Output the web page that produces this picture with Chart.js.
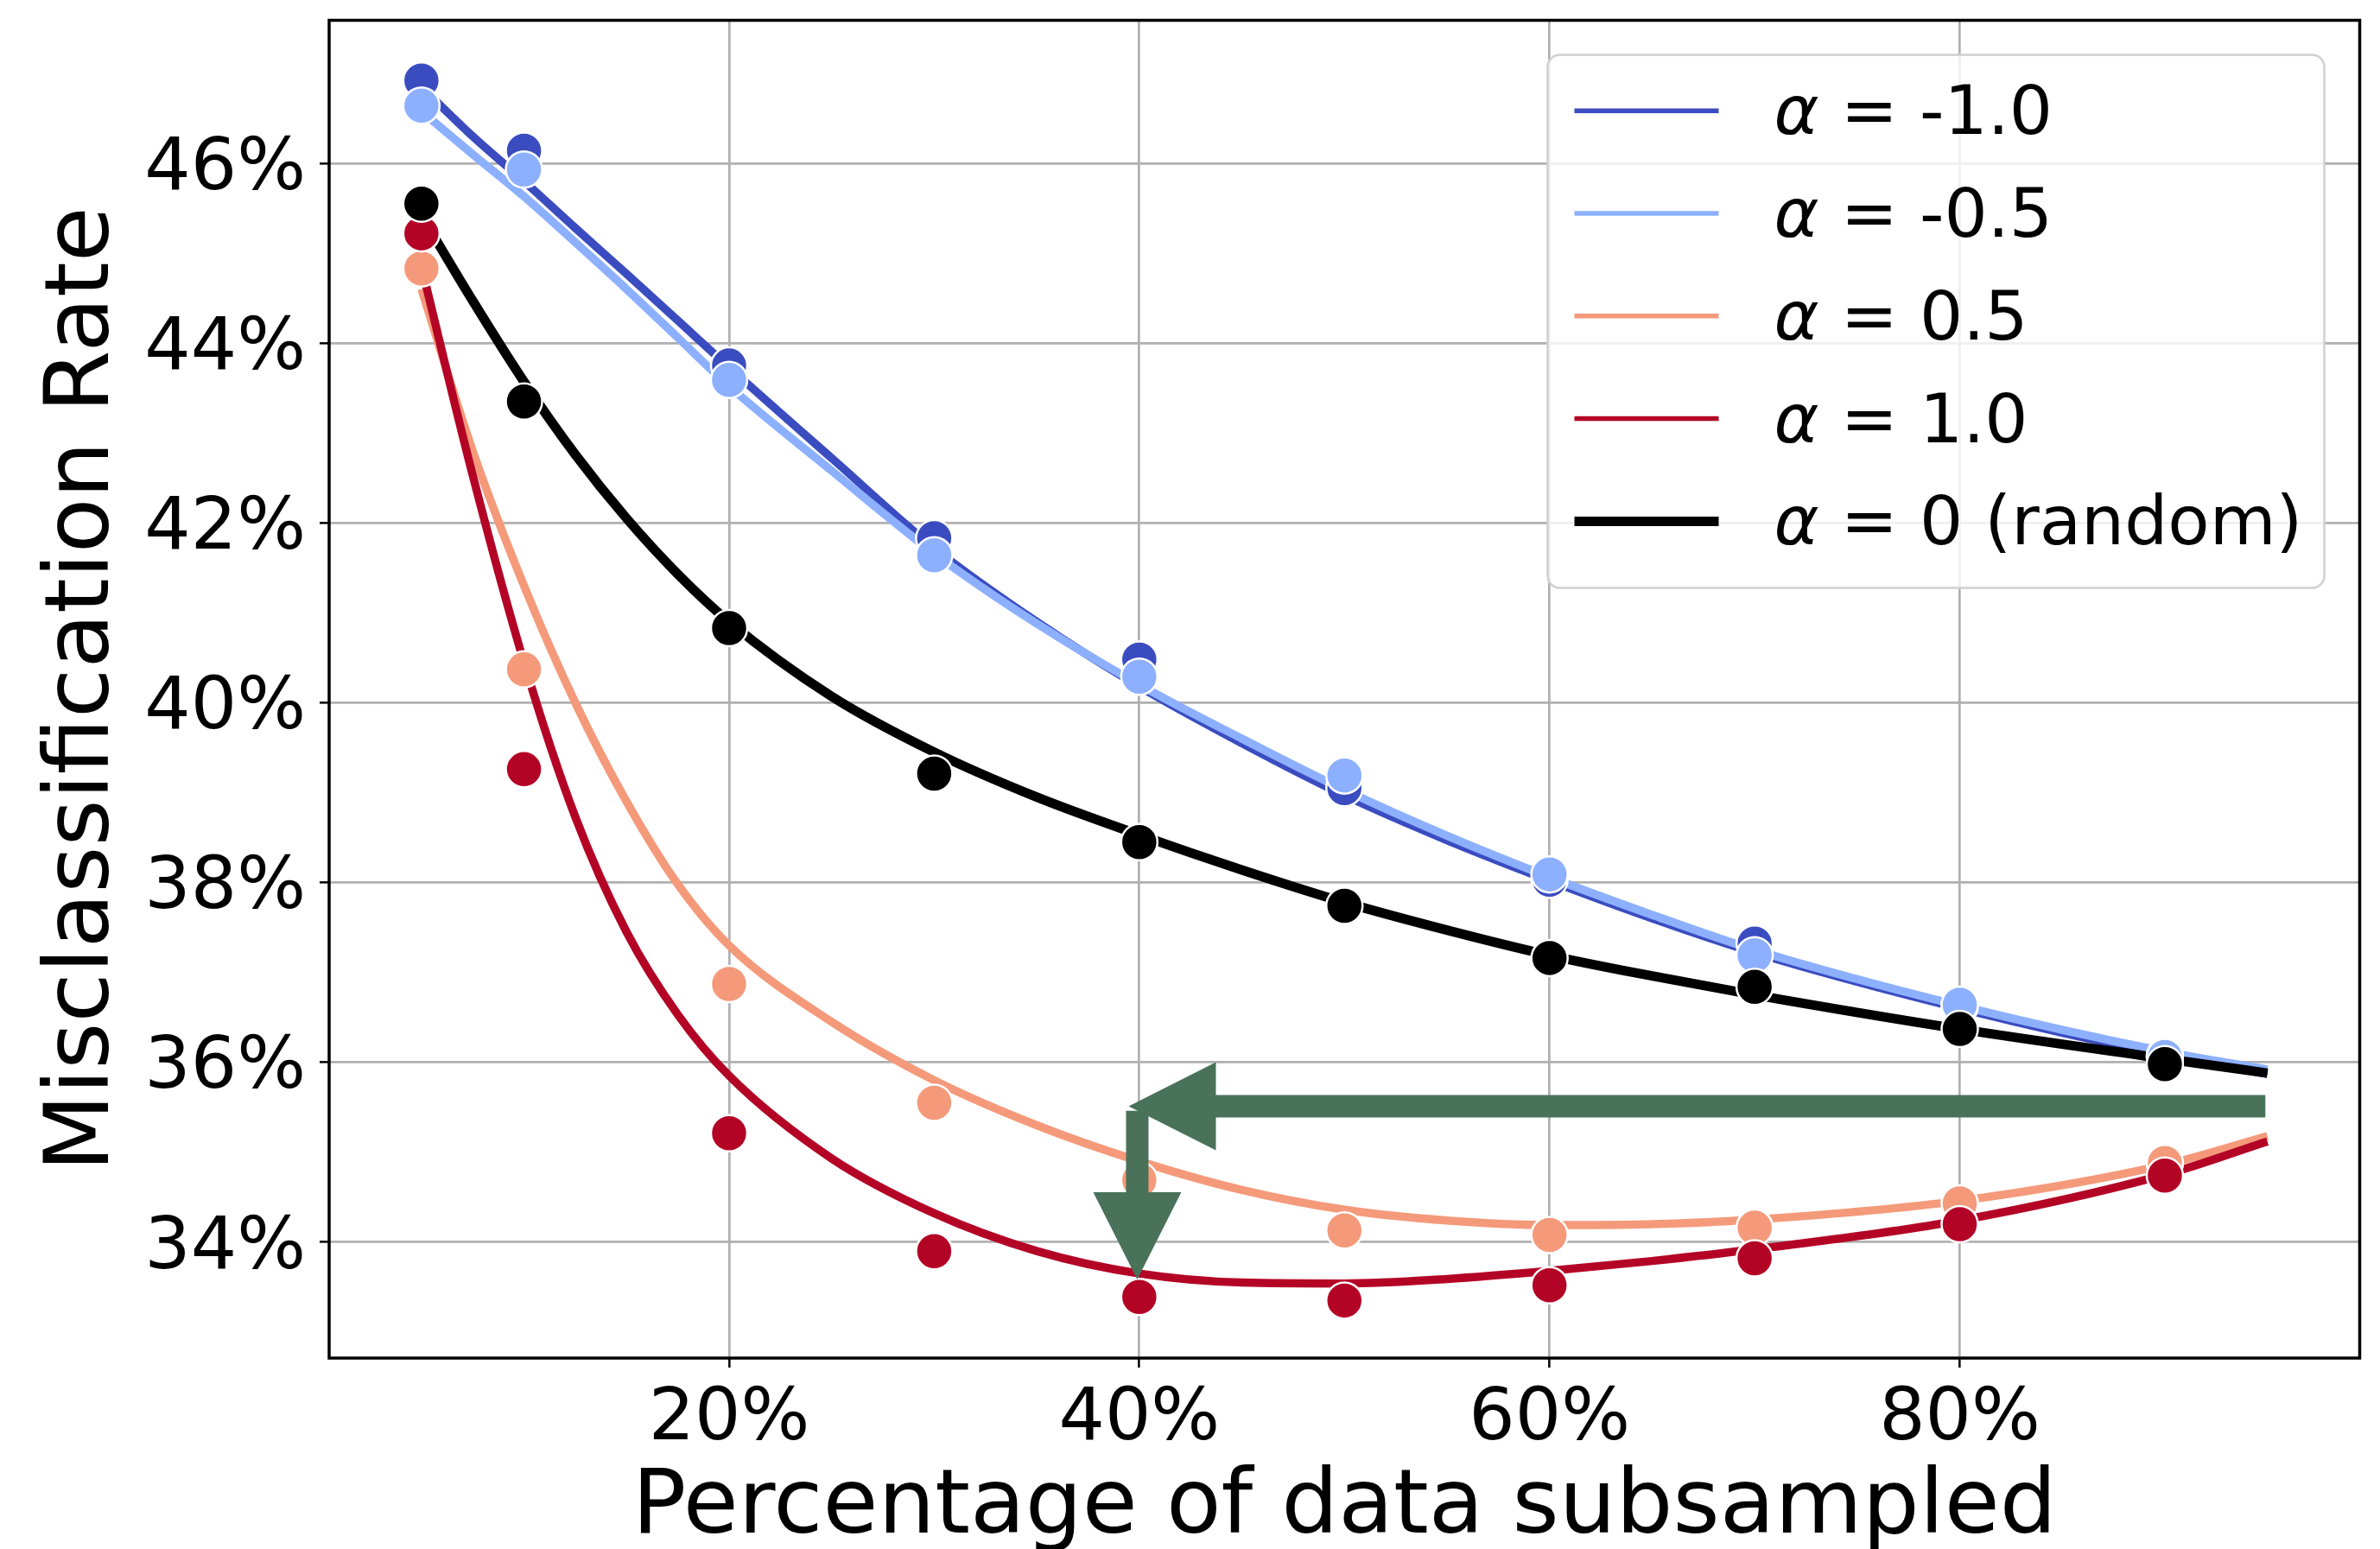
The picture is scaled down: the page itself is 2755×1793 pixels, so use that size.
<!DOCTYPE html>
<html>
<head>
<meta charset="utf-8">
<title>Misclassification rate vs. subsample size</title>
<script src="https://cdn.jsdelivr.net/npm/chart.js@4.4.1/dist/chart.umd.min.js"></script>
<style>
    html, body { margin: 0; padding: 0; background: #ffffff; }
    canvas { display: block; }
</style>
</head>
<body>
<canvas id="rateChart" width="2755" height="1793"></canvas>
<script>
// Subsample sizes (%) where each model was evaluated
const sampleSizes = [5, 10, 20, 30, 40, 50, 60, 70, 80, 90];

// Measured misclassification rate (%) per alpha
const rateAlphaNeg10 = [46.92, 46.14, 43.75, 41.83, 40.48, 39.05, 38.03, 37.32, 36.62, 36.07];
const rateAlphaNeg05 = [46.64, 45.93, 43.59, 41.64, 40.29, 39.19, 38.09, 37.19, 36.64, 36.06];
const rateAlphaPos05 = [44.83, 40.37, 36.87, 35.55, 34.69, 34.13, 34.08, 34.16, 34.43, 34.88];
const rateAlphaPos10 = [45.22, 39.26, 35.21, 33.90, 33.39, 33.35, 33.52, 33.82, 34.20, 34.74];
const rateRandom = [45.55, 43.35, 40.83, 39.21, 38.45, 37.74, 37.16, 36.84, 36.37, 35.98];

const fitSizes = [5, 7.5, 10, 12.5, 15, 17.5, 20, 25, 30, 35, 40, 45, 50, 55, 60, 65, 70, 80, 90, 95];
const fitAlphaNeg10 = [46.85, 46.3, 45.8, 45.28, 44.77, 44.25, 43.73, 42.72, 41.72, 40.9, 40.18, 39.55, 38.97, 38.47, 38.02, 37.6, 37.22, 36.6, 36.08, 35.87];
const fitAlphaNeg05 = [46.58, 46.1, 45.63, 45.12, 44.6, 44.06, 43.52, 42.58, 41.66, 40.88, 40.2, 39.6, 39.03, 38.52, 38.06, 37.64, 37.25, 36.63, 36.12, 35.92];
const fitAlphaPos05 = [44.6, 42.8, 41.3, 40.0, 38.9, 37.98, 37.3, 36.45, 35.8, 35.3, 34.9, 34.58, 34.36, 34.24, 34.19, 34.2, 34.25, 34.46, 34.86, 35.18];
const fitAlphaPos10 = [44.85, 42.53, 40.45, 38.73, 37.45, 36.53, 35.85, 34.93, 34.32, 33.9, 33.65, 33.55, 33.54, 33.59, 33.68, 33.79, 33.92, 34.24, 34.75, 35.12];
const fitRandom = [45.42, 44.47, 43.57, 42.76, 42.05, 41.43, 40.9, 40.07, 39.45, 38.95, 38.53, 38.14, 37.78, 37.47, 37.19, 36.96, 36.75, 36.37, 36.04, 35.88];

const seriesLabels = ['α = -1.0', 'α = -0.5', 'α = 0.5', 'α = 1.0', 'α = 0 (random)'];
const seriesColors = ['#3b4cc0', '#8db0fe', '#f49a7b', '#b40426', '#000000'];

// Axis ticks (%)
const xTickValues = [20, 40, 60, 80];
const yTickValues = [34, 36, 38, 40, 42, 44, 46];

// Arrow annotations: tail and tip, in data units [x %, y %]
const arrowTails = [[94.9, 35.51], [39.9, 35.46]];
const arrowTips = [[39.48, 35.51], [39.9, 33.585]];

const FONT = '"DejaVu Sans", "Liberation Sans", sans-serif';
Chart.defaults.font.family = FONT;
Chart.defaults.color = '#000000';

/**
 * Draw the block arrows on top of the data
 */
const arrowPlugin = {
    id: 'blockArrows',
    afterDatasetsDraw(chart, args, opts) {
        const { ctx, scales: { x, y } } = chart;
        ctx.save();
        ctx.fillStyle = opts.color;
        arrowTails.forEach((tail, i) => {
            const tip = arrowTips[i];
            const x0 = x.getPixelForValue(tail[0]);
            const y0 = y.getPixelForValue(tail[1]);
            const x1 = x.getPixelForValue(tip[0]);
            const y1 = y.getPixelForValue(tip[1]);
            const len = Math.hypot(x1 - x0, y1 - y0);
            const ux = (x1 - x0) / len, uy = (y1 - y0) / len;
            const nx = -uy, ny = ux;
            const bx = x1 - ux * opts.headLength, by = y1 - uy * opts.headLength;
            const w = opts.shaftWidth / 2, h = opts.headWidth / 2;
            ctx.beginPath();
            ctx.moveTo(x0 + nx * w, y0 + ny * w);
            ctx.lineTo(bx + nx * w, by + ny * w);
            ctx.lineTo(bx + nx * h, by + ny * h);
            ctx.lineTo(x1, y1);
            ctx.lineTo(bx - nx * h, by - ny * h);
            ctx.lineTo(bx - nx * w, by - ny * w);
            ctx.lineTo(x0 - nx * w, y0 - ny * w);
            ctx.closePath();
            ctx.fill();
        });
        ctx.restore();
    }
};

/**
 * Black box round the plot area (all four sides)
 */
const framePlugin = {
    id: 'plotFrame',
    afterDatasetsDraw(chart, args, opts) {
        const { ctx, chartArea: a } = chart;
        ctx.save();
        ctx.strokeStyle = opts.color;
        ctx.lineWidth = opts.width;
        ctx.strokeRect(a.left, a.top, a.right - a.left, a.bottom - a.top);
        ctx.restore();
    }
};

/**
 * Legend with italic alpha, drawn last so it sits above everything
 */
const legendPlugin = {
    id: 'alphaLegend',
    afterDraw(chart, args, opts) {
        const { ctx, chartArea } = chart;
        const left = chartArea.right - opts.marginRight - opts.width;
        const top = chartArea.top + opts.marginTop;
        ctx.save();
        ctx.beginPath();
        ctx.roundRect(left, top, opts.width, opts.height, opts.radius);
        ctx.fillStyle = 'rgba(255, 255, 255, 0.8)';
        ctx.fill();
        ctx.lineWidth = opts.borderWidth;
        ctx.strokeStyle = opts.borderColor;
        ctx.stroke();

        seriesLabels.forEach((label, i) => {
            const rowY = top + opts.firstRow + i * opts.rowGap;
            ctx.beginPath();
            ctx.strokeStyle = seriesColors[i];
            ctx.lineWidth = opts.lineWidths[i];
            ctx.lineCap = 'butt';
            ctx.moveTo(left + opts.lineStart, rowY);
            ctx.lineTo(left + opts.lineStart + opts.lineLength, rowY);
            ctx.stroke();

            ctx.fillStyle = '#000000';
            ctx.textAlign = 'left';
            ctx.textBaseline = 'alphabetic';
            const base = rowY + opts.baselineShift;
            let tx = left + opts.textStart;
            ctx.font = `italic ${opts.fontSize}px ${FONT}`;
            ctx.fillText(label[0], tx, base);
            tx += ctx.measureText(label[0]).width;
            ctx.font = `${opts.fontSize}px ${FONT}`;
            ctx.fillText(label.slice(1), tx, base);
        });
        ctx.restore();
    }
};

const fitSeries = [fitAlphaNeg10, fitAlphaNeg05, fitAlphaPos05, fitAlphaPos10, fitRandom];
const pointSeries = [rateAlphaNeg10, rateAlphaNeg05, rateAlphaPos05, rateAlphaPos10, rateRandom];

const datasets = [];
// lines first (lower layers), then the markers; lower order = drawn on top
fitSeries.forEach((values, i) => {
    datasets.push({
        label: seriesLabels[i] + ' fit',
        data: fitSizes.map((x, j) => ({ x, y: values[j] })),
        showLine: true,
        borderColor: seriesColors[i],
        borderWidth: i === 4 ? 11 : 9.5,
        pointRadius: 0,
        cubicInterpolationMode: 'monotone',
        order: 10 - i
    });
});
pointSeries.forEach((values, i) => {
    datasets.push({
        label: seriesLabels[i],
        data: sampleSizes.map((x, j) => ({ x, y: values[j] })),
        showLine: false,
        pointRadius: 21,
        pointBackgroundColor: seriesColors[i],
        pointBorderColor: '#ffffff',
        pointBorderWidth: 2.5,
        order: 5 - i
    });
});

// pin the axis boxes so the plot area lands where it does in the original
const fixScaleBox = (size) => (scale) => {
    if (scale.isHorizontal()) scale.height = size;
    else scale.width = size;
    scale.paddingTop = 0;
    scale.paddingBottom = 0;
    scale.paddingLeft = 0;
    scale.paddingRight = 0;
};

const ctx = document.getElementById('rateChart').getContext('2d');
const rateChart = new Chart(ctx, {
    type: 'scatter',
    data: { datasets },
    options: {
        responsive: false,
        animation: false,
        devicePixelRatio: 1,
        events: [],
        layout: { padding: { top: 17, right: 19, left: 0, bottom: 0 } },
        plugins: {
            legend: { display: false },
            tooltip: { enabled: false },
            blockArrows: { color: '#4a725a', shaftWidth: 26, headWidth: 102, headLength: 101 },
            plotFrame: { color: '#000000', width: 3.5 },
            alphaLegend: {
                width: 899, height: 617, marginRight: 41, marginTop: 40, radius: 14,
                borderColor: '#d0d0d0', borderWidth: 2.5,
                firstRow: 64.7, rowGap: 118.8,
                lineStart: 31, lineLength: 167, lineWidths: [5.5, 5.5, 5.5, 5.5, 11],
                textStart: 262, baselineShift: 27, fontSize: 79
            }
        },
        scales: {
            x: {
                type: 'linear',
                min: 0.5,
                max: 99.5,
                afterBuildTicks: scale => { scale.ticks = xTickValues.map(value => ({ value })); },
                afterFit: fixScaleBox(221),
                ticks: {
                    callback: value => value + '%',
                    font: { size: 84 },
                    color: '#000000',
                    padding: 10.6,
                    maxRotation: 0,
                    autoSkip: false
                },
                grid: { color: '#b0b0b0', lineWidth: 2.7, tickLength: 11, tickColor: '#000000', tickWidth: 2.5 },
                border: { display: false },
                title: {
                    display: true,
                    text: 'Percentage of data subsampled',
                    font: { size: 104 },
                    color: '#000000',
                    padding: { top: 0, bottom: -16 }
                }
            },
            y: {
                type: 'linear',
                min: 32.71,
                max: 47.59,
                afterBuildTicks: scale => { scale.ticks = yTickValues.map(value => ({ value })); },
                afterFit: fixScaleBox(381),
                ticks: {
                    callback: value => value + '%',
                    font: { size: 84 },
                    color: '#000000',
                    padding: 16,
                    labelOffset: 8,
                    autoSkip: false
                },
                grid: { color: '#b0b0b0', lineWidth: 2.7, tickLength: 11, tickColor: '#000000', tickWidth: 2.5 },
                border: { display: false },
                title: {
                    display: true,
                    text: 'Misclassification Rate',
                    font: { size: 104 },
                    color: '#000000',
                    padding: { top: 35.6, bottom: 0 }
                }
            }
        }
    },
    plugins: [arrowPlugin, framePlugin, legendPlugin]
});
</script>
</body>
</html>
